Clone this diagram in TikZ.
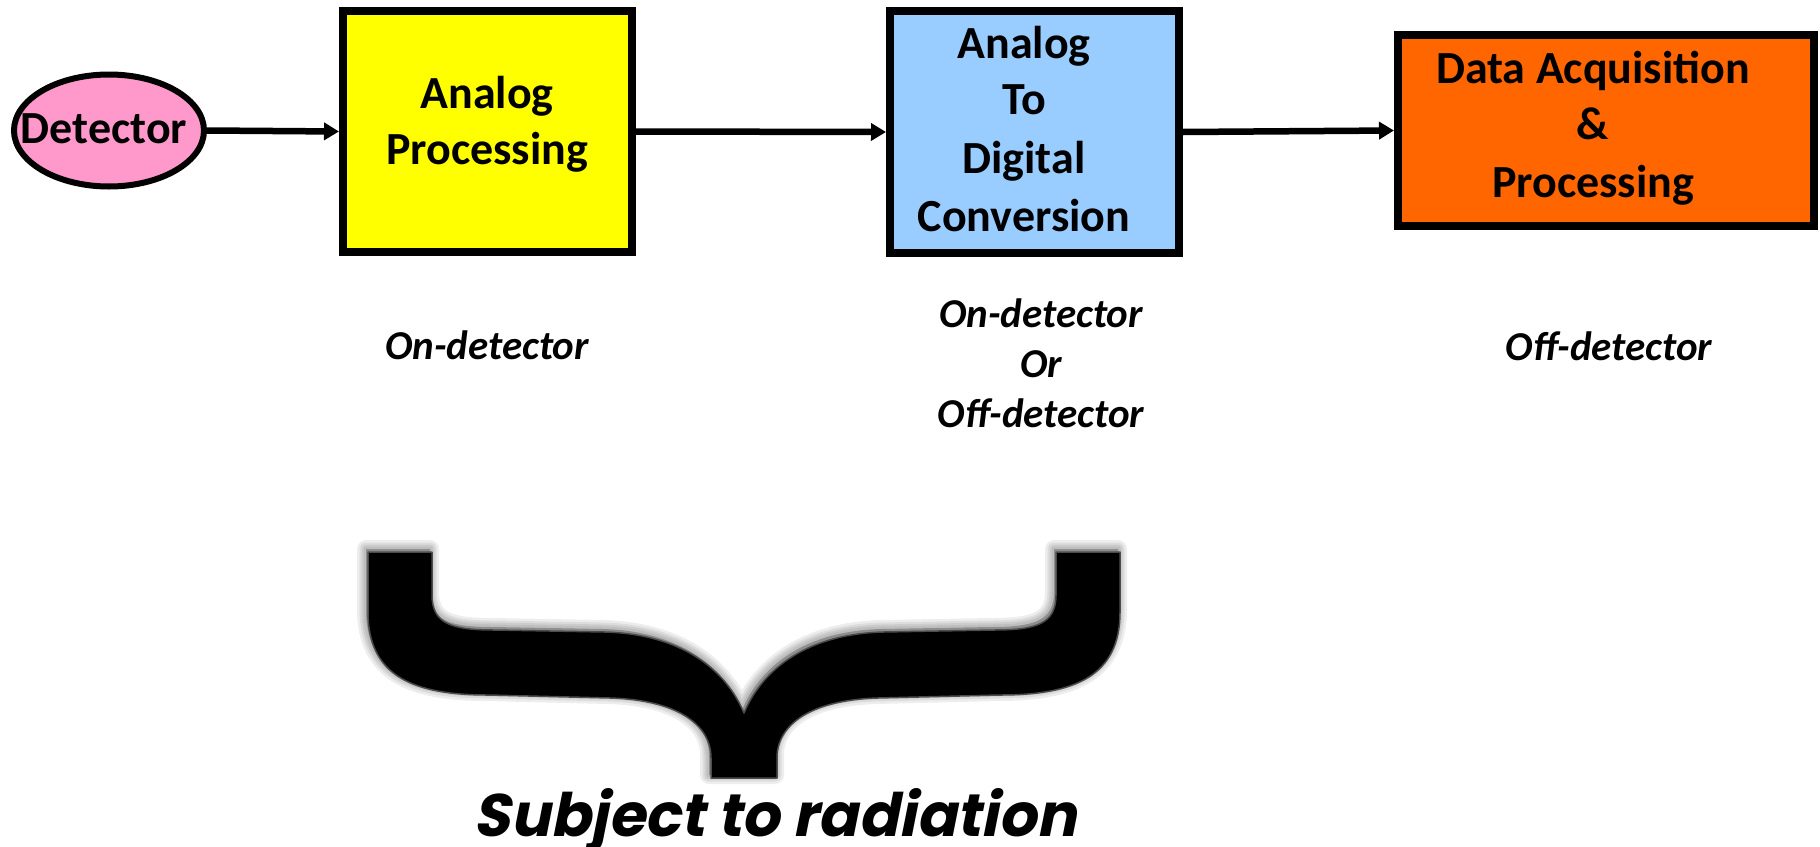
\documentclass[tikz,border=0pt]{standalone}
\usepackage{fontspec}
\setmainfont{Carlito}
\newfontfamily\gothic[FakeSlant=0.2]{Poppins}
\usepackage{graphicx}
\usetikzlibrary{arrows.meta,shapes.geometric}
\definecolor{detpink}{HTML}{FF99CC}
\definecolor{boxyellow}{HTML}{FFFF00}
\definecolor{boxblue}{HTML}{99CCFF}
\definecolor{boxorange}{HTML}{FF6600}
\tikzset{
  blockbox/.style={draw=black, line width=8pt, inner sep=0pt, rectangle},
  boxtext/.style={font=\fontsize{46}{56}\selectfont\bfseries, anchor=base, inner sep=0pt},
  locnote/.style={font=\fontsize{41}{50}\selectfont\bfseries\itshape, anchor=base, inner sep=0pt},
  flow/.style={line width=6.5pt, -{Triangle[length=15pt,width=17pt]}},
  braceshadow/.style={draw=black, fill=black, opacity=0.07, line join=round},
}
\newcommand\bracepath{(368,552) -- (432,552) -- (432,595) .. controls (432,624) and (452,630) .. (495,630) -- (605,632) .. controls (680,634) and (725,668) .. (744,713) .. controls (763,668) and (808,634) .. (883,632) -- (993,630) .. controls (1036,630) and (1056,624) .. (1056,595) -- (1056,552) -- (1120,552) -- (1120,612) .. controls (1120,676) and (1075,695) .. (1000,695) -- (878,698) .. controls (810,700) and (777,725) .. (777,758) -- (777,778) -- (711,778) -- (711,758) .. controls (711,725) and (678,700) .. (610,698) -- (488,695) .. controls (413,695) and (368,676) .. (368,612) -- cycle}
\begin{document}
\begin{tikzpicture}[x=1pt,y=-1pt]
\useasboundingbox (0,0) rectangle (1820,846);
% blocks
\node[draw=black, line width=6pt, fill=detpink, ellipse, inner sep=0pt, minimum width=190pt, minimum height=112pt] (det) at (109,130.5) {};
\node[boxtext] (dettxt) at (104,143) {Detector};
\node[blockbox, fill=boxyellow, minimum width=289pt, minimum height=241pt] (ap) at (487.5,131.5) {};
\node[blockbox, fill=boxblue, minimum width=289pt, minimum height=242pt] (adc) at (1034.5,132) {};
\node[blockbox, fill=boxorange, minimum width=416pt, minimum height=191pt] (daq) at (1606,130.5) {};
% block texts
\node[boxtext] (ap1) at (487,108) {Analog};
\node[boxtext] (ap2) at (487,164) {Processing};
\node[boxtext] (adc1) at (1024,58) {Analog};
\node[boxtext] (adc2) at (1024,114) {To};
\node[boxtext] (adc3) at (1024,173) {Digital};
\node[boxtext] (adc4) at (1024,231) {Conversion};
\node[boxtext] (daq1) at (1593,83) {Data Acquisition};
\node[boxtext] (daq2) at (1593,139) {\&};
\node[boxtext] (daq3) at (1593,197) {Processing};
% connectors
\draw[flow] (det.east) -- (ap.west);
\draw[flow] (ap.east) -- (adc.west);
\draw[flow] (adc.east) -- (daq.west);
% location notes
\node[locnote] (loc1) at (487,359) {On-detector};
\node[locnote] (loc2a) at (1041,327) {On-detector};
\node[locnote] (loc2b) at (1041,377) {Or};
\node[locnote] (loc2c) at (1041,427) {Off-detector};
\node[locnote] (loc3) at (1609,360) {Off-detector};
% brace with soft shadow
\foreach \w in {18,13,9,5}{
  \path[braceshadow, line width=\w pt, xshift=-2pt, yshift=3pt] \bracepath;
}
\path[draw=black!70, fill=black, line width=1.5pt, line join=round] \bracepath;
\node[anchor=base, inner sep=0pt] (subj) at (775,836) {\resizebox{603pt}{48pt}{\gothic\bfseries Subject to radiation}};
\end{tikzpicture}
\end{document}
